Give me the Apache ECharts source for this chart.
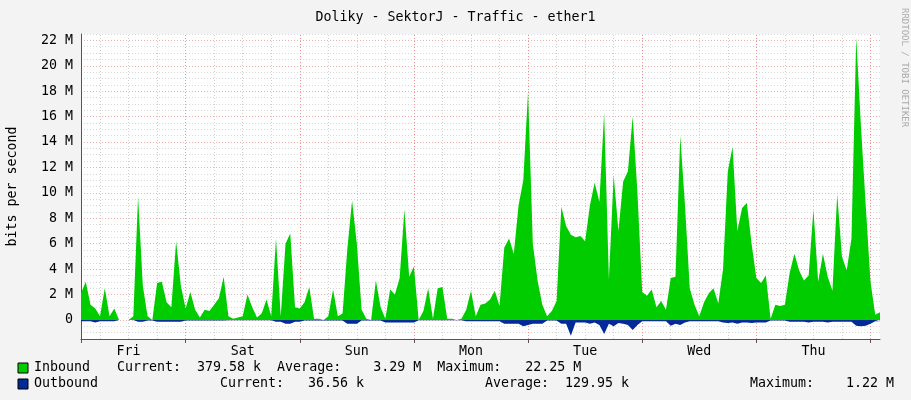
<!DOCTYPE html>
<html>
<head>
<meta charset="utf-8">
<title>Doliky - SektorJ - Traffic - ether1</title>
<script src="https://cdn.jsdelivr.net/npm/echarts@6/dist/echarts.min.js"></script>
<style>
  html, body { margin: 0; padding: 0; background: #f3f3f3; }
  #main { width: 911px; height: 400px; }
</style>
</head>
<body>
<div id="main"></div>
<script>
// hours since Fri 00:00, first sample at hour 2, one sample per hour
var startHour = 2;
var inbound = [
  2.1, 3.0, 1.2, 0.9, 0.3, 2.5, 0.3, 0.9, 0, 0, 0, 0.3, 9.7, 2.7, 0.3, 0,
  2.9, 3.0, 1.4, 1.0, 6.2, 2.7, 0.9, 2.2, 0.8, 0.2, 0.8, 0.7, 1.2, 1.7, 3.4, 0.3,
  0.1, 0.2, 0.3, 2.0, 1.0, 0.2, 0.5, 1.6, 0.3, 6.4, 0.3, 6.0, 6.8, 1.0, 0.9, 1.4,
  2.6, 0.1, 0.1, 0, 0.3, 2.4, 0.3, 0.5, 5.6, 9.4, 6.0, 0.8, 0.1, 0, 3.1, 1.0,
  0.1, 2.4, 2.0, 3.3, 8.7, 3.4, 4.2, 0, 0.7, 2.5, 0.1, 2.5, 2.6, 0.1, 0.1, 0,
  0.1, 0.8, 2.3, 0.3, 1.2, 1.3, 1.6, 2.3, 1.1, 5.7, 6.4, 5.2, 9.0, 11.0, 18.0, 6.0,
  3.1, 1.2, 0.3, 0.7, 1.5, 8.9, 7.4, 6.7, 6.5, 6.6, 6.2, 9.0, 10.8, 9.3, 16.3, 3.2,
  11.4, 7.0, 10.9, 11.7, 16.0, 10.0, 2.2, 1.9, 2.4, 1.0, 1.5, 0.8, 3.3, 3.4, 14.5, 9.0,
  2.5, 1.2, 0.3, 1.4, 2.1, 2.5, 1.3, 4.0, 11.7, 13.6, 7.0, 8.8, 9.2, 6.0, 3.3, 2.9,
  3.5, 0.1, 1.2, 1.1, 1.2, 3.7, 5.2, 3.9, 3.1, 3.5, 8.7, 3.0, 5.2, 3.4, 2.3, 9.9,
  5.0, 3.9, 6.4, 22.2, 15.2, 9.0, 3.0, 0.4, 0.6
];
var outbound = [
  -0.1, -0.1, -0.1, -0.2, -0.1, -0.1, -0.1, -0.1, 0, 0, 0, 0, -0.15, -0.15, -0.05, -0.05,
  -0.15, -0.15, -0.15, -0.15, -0.15, -0.15, -0.05, -0.05, -0.05, -0.05, -0.05, -0.05, -0.05, -0.05, -0.05, -0.02,
  -0.02, -0.02, -0.02, -0.02, -0.02, -0.02, -0.02, -0.02, -0.02, -0.15, -0.15, -0.3, -0.3, -0.15, -0.15, -0.05,
  -0.05, -0.05, -0.05, -0.05, -0.05, -0.05, -0.05, -0.05, -0.3, -0.3, -0.3, -0.05, -0.05, -0.05, -0.05, -0.05,
  -0.2, -0.2, -0.2, -0.2, -0.2, -0.2, -0.2, -0.03, -0.03, -0.03, -0.03, -0.03, -0.03, -0.03, -0.03, -0.03,
  -0.03, -0.1, -0.1, -0.1, -0.1, -0.1, -0.1, -0.1, -0.1, -0.3, -0.3, -0.3, -0.3, -0.5, -0.4, -0.3,
  -0.3, -0.3, -0.05, -0.05, -0.05, -0.3, -0.3, -1.25, -0.2, -0.2, -0.2, -0.3, -0.2, -0.4, -1.1, -0.3,
  -0.5, -0.25, -0.3, -0.4, -0.8, -0.4, -0.1, -0.1, -0.1, -0.1, -0.1, -0.1, -0.45, -0.3, -0.4, -0.2,
  -0.1, -0.1, -0.1, -0.1, -0.1, -0.1, -0.1, -0.2, -0.25, -0.2, -0.3, -0.2, -0.2, -0.25, -0.2, -0.2,
  -0.2, -0.05, -0.05, -0.05, -0.05, -0.15, -0.15, -0.15, -0.15, -0.2, -0.15, -0.15, -0.15, -0.2, -0.15, -0.15,
  -0.15, -0.15, -0.15, -0.45, -0.5, -0.45, -0.3, -0.1, -0.1
];
var dayNames = ['Fri', 'Sat', 'Sun', 'Mon', 'Tue', 'Wed', 'Thu'];
var minorHours = [6, 12, 18, 30, 36, 42, 54, 60, 66, 78, 84, 90, 102, 108, 114, 126, 132, 138, 150, 156, 162];
var majorHours = [24, 48, 72, 96, 120, 144, 168];

var mono = 'DejaVu Sans Mono';
var fs = 13.3;
function toPairs(arr) {
  return arr.map(function (v, i) { return [startHour + i, v * 1e6]; });
}
var gridLines = minorHours.map(function (h) {
  return { xAxis: h, lineStyle: { color: '#d0d0d0', type: [1, 2], width: 1 } };
}).concat(majorHours.map(function (h) {
  return { xAxis: h, lineStyle: { color: '#f09090', type: [1, 2], width: 1 } };
}));

var myChart = echarts.init(document.getElementById('main'));
myChart.setOption({
  backgroundColor: '#f3f3f3',
  animation: false,
  textStyle: { fontFamily: mono },
  title: {
    text: 'Doliky - SektorJ - Traffic - ether1',
    left: 'center', top: 6,
    textStyle: { fontFamily: mono, fontSize: fs, fontWeight: 'normal', color: '#000' }
  },
  grid: { left: 81, right: 31, top: 34, bottom: 61, outerBoundsMode: 'none', containLabel: false,
    show: true, backgroundColor: '#fff', borderWidth: 0 },
  xAxis: {
    type: 'value', min: 2, max: 170,
    axisLine: { onZero: false, lineStyle: { color: '#555' } },
    splitLine: { show: false },
    axisTick: { customValues: [2].concat(majorHours), length: 4, inside: false, lineStyle: { color: '#555' } },
    axisLabel: {
      customValues: [12, 36, 60, 84, 108, 132, 156],
      formatter: function (v) { return dayNames[Math.round((v - 12) / 24)]; },
      color: '#000', fontFamily: mono, fontSize: fs, margin: 6
    }
  },
  yAxis: {
    type: 'value', min: -1.5e6, max: 22.5e6, interval: 0.5e6,
    name: 'bits per second', nameLocation: 'middle', nameGap: 62, nameRotate: 90,
    nameTextStyle: { fontFamily: mono, fontSize: fs, color: '#000' },
    axisLine: { show: true, lineStyle: { color: '#555' } },
    axisTick: { show: false },
    axisLabel: {
      color: '#000', fontFamily: mono, fontSize: fs, margin: 8,
      formatter: function (v) {
        if (Math.round(v) % 2e6 !== 0) return '';
        return v === 0 ? '0' : (v / 1e6) + ' M';
      }
    },
    splitLine: { lineStyle: { color: ['#d8d8d8', '#d8d8d8', '#d8d8d8', '#f0b0b0'], type: [1, 2] } }
  },
  series: [
    {
      name: 'grid', type: 'line', data: [], z: 1,
      markLine: { z: 1, silent: true, symbol: 'none', label: { show: false }, data: gridLines }
    },
    {
      name: 'Inbound', type: 'line', z: 3, data: toPairs(inbound), symbol: 'none',
      lineStyle: { width: 0 }, areaStyle: { color: '#00cc00', opacity: 1 }
    },
    {
      name: 'Outbound', type: 'line', z: 3, data: toPairs(outbound), symbol: 'none',
      lineStyle: { width: 0 }, areaStyle: { color: '#002a97', opacity: 1 }
    }
  ],
  graphic: [
    { type: 'text', rotation: -Math.PI / 2, x: 909, y: 8,
      style: { text: 'RRDTOOL / TOBI OETIKER', fill: '#aaa', font: '9px ' + mono } },
    { type: 'rect', shape: { x: 18, y: 363, width: 10, height: 10 }, style: { fill: '#00cc00', stroke: '#000' } },
    { type: 'rect', shape: { x: 18, y: 379, width: 10, height: 10 }, style: { fill: '#002a97', stroke: '#000' } },
    { type: 'text', x: 34, y: 361, style: { text: 'Inbound', font: fs + 'px ' + mono, fill: '#000' } },
    { type: 'text', x: 117, y: 361, style: { text: 'Current:  379.58 k  Average:    3.29 M  Maximum:   22.25 M', font: fs + 'px ' + mono, fill: '#000' } },
    { type: 'text', x: 34, y: 377, style: { text: 'Outbound', font: fs + 'px ' + mono, fill: '#000' } },
    { type: 'text', x: 220, y: 377, style: { text: 'Current:   36.56 k', font: fs + 'px ' + mono, fill: '#000' } },
    { type: 'text', x: 485, y: 377, style: { text: 'Average:  129.95 k', font: fs + 'px ' + mono, fill: '#000' } },
    { type: 'text', x: 750, y: 377, style: { text: 'Maximum:    1.22 M', font: fs + 'px ' + mono, fill: '#000' } }
  ]
});
</script>
</body>
</html>
